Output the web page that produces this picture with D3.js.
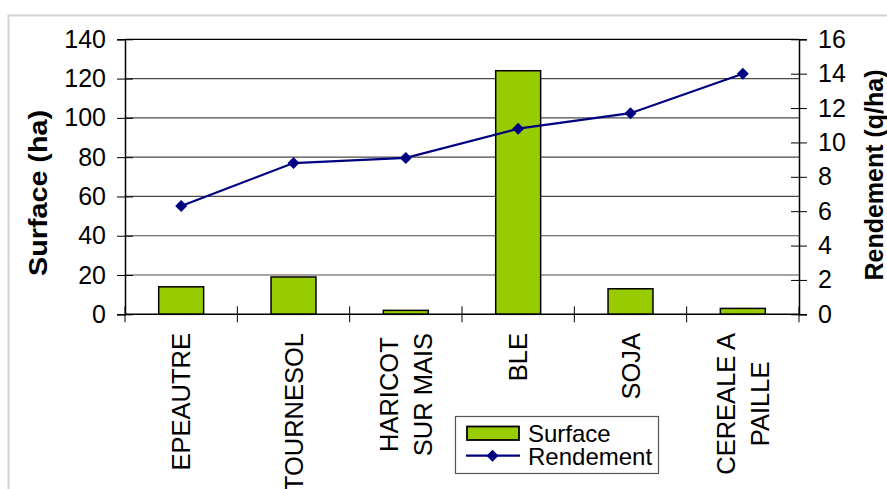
<!DOCTYPE html>
<html>
<head>
<meta charset="utf-8">
<script src="https://cdn.jsdelivr.net/npm/d3@7"></script>
<style>
  html, body { margin: 0; padding: 0; background: #fff; }
  svg { display: block; font-family: "Liberation Sans", Arial, sans-serif; }
</style>
</head>
<body>
<svg id="chart" width="887" height="489"></svg>
<script>
// Cultures: surface (ha) as bars, rendement (q/ha) as a line on the right axis
const categories = [["EPEAUTRE"], ["TOURNESOL"], ["HARICOT", "SUR MAIS"], ["BLE"], ["SOJA"], ["CEREALE A", "PAILLE"]];
const surface = [14, 19, 2, 124, 13, 3];
const rendement = [6.3, 8.8, 9.1, 10.8, 11.7, 14.0];
const surfaceTicks = [0, 20, 40, 60, 80, 100, 120, 140];
const rendementTicks = [0, 2, 4, 6, 8, 10, 12, 14, 16];

const svg = d3.select("#chart");
const plotLeft = 125, plotRight = 799, plotTop = 39.3, plotBottom = 314.3;

// outer frame of the chart area
svg.append("rect")
  .attr("x", 8.5).attr("y", 15.5).attr("width", 1000).attr("height", 1000)
  .attr("fill", "none").attr("stroke", "#d4d4d4").attr("stroke-width", 2);

const x = d3.scaleBand().domain(d3.range(categories.length)).range([plotLeft, plotRight]).paddingInner(0).paddingOuter(0);
const yL = d3.scaleLinear().domain([0, 140]).range([plotBottom, plotTop]);
const yR = d3.scaleLinear().domain([0, 16]).range([plotBottom, plotTop]);

// gridlines
svg.append("g").selectAll("line").data(surfaceTicks.slice(1)).join("line")
  .attr("x1", plotLeft).attr("x2", plotRight)
  .attr("y1", d => yL(d)).attr("y2", d => yL(d))
  .attr("stroke", d => d === 140 ? "#000" : "#4a4a4a").attr("stroke-width", 1.2);

// bars
const barW = x.bandwidth() * 0.4;
svg.append("g").selectAll("rect").data(surface).join("rect")
  .attr("x", (d, i) => x(i) + x.bandwidth() / 2 - barW / 2)
  .attr("y", d => yL(d))
  .attr("width", barW)
  .attr("height", d => yL(0) - yL(d))
  .attr("fill", "#99cc00").attr("stroke", "#000").attr("stroke-width", 1.5);

// left axis
const axL = svg.append("g").attr("transform", `translate(${plotLeft},0)`)
  .call(d3.axisLeft(yL).tickValues(surfaceTicks).tickSize(8).tickPadding(11));
axL.selectAll(".tick line").attr("x2", -8).attr("x1", 8);
// right axis
const axR = svg.append("g").attr("transform", `translate(${plotRight},0)`)
  .call(d3.axisRight(yR).tickValues(rendementTicks).tickSize(8).tickPadding(11));
axR.selectAll(".tick line").attr("x1", -8).attr("x2", 8);
// bottom axis with ticks between categories
const xEdges = d3.range(categories.length + 1).map(i => plotLeft + i * x.bandwidth());
svg.append("line").attr("x1", plotLeft).attr("x2", plotRight).attr("y1", plotBottom).attr("y2", plotBottom)
  .attr("stroke", "#000").attr("stroke-width", 1.5);
svg.append("g").selectAll("line").data(xEdges).join("line")
  .attr("x1", d => d).attr("x2", d => d).attr("y1", plotBottom - 8).attr("y2", plotBottom + 8)
  .attr("stroke", "#000").attr("stroke-width", 1);

[axL, axR].forEach(ax => {
  ax.select(".domain").attr("stroke", "#000").attr("stroke-width", 1.5);
  ax.selectAll(".tick line").attr("stroke", "#000");
  ax.selectAll("text").attr("font-size", 25).attr("fill", "#000")
    .attr("font-family", "'Liberation Sans', Arial, sans-serif");
});

// category labels, rotated, lines centred on each other, top edge near the axis
const labTop = 333;
const lineGap = 34;
categories.forEach((lines, i) => {
  const cx = x(i) + x.bandwidth() / 2;
  const g = svg.append("g");
  const texts = lines.map((t, k) => g.append("text").text(t)
    .attr("font-size", 25.5).attr("text-anchor", "middle").attr("fill", "#000"));
  const maxLen = d3.max(texts, t => t.node().getComputedTextLength());
  const cy = labTop + maxLen / 2;
  const n = lines.length;
  texts.forEach((t, k) => {
    const bx = cx + 9 + (k - (n - 1) / 2) * lineGap;
    t.attr("transform", `translate(${bx},${cy}) rotate(-90)`);
  });
});

// rendement line
const lineGen = d3.line().x((d, i) => x(i) + x.bandwidth() / 2).y(d => yR(d));
svg.append("path").datum(rendement).attr("d", lineGen)
  .attr("fill", "none").attr("stroke", "#000080").attr("stroke-width", 2.2);
const diamond = d3.symbol().type(d3.symbolSquare).size(72);
svg.append("g").selectAll("path").data(rendement).join("path")
  .attr("d", diamond)
  .attr("transform", (d, i) => `translate(${x(i) + x.bandwidth() / 2},${yR(d)}) rotate(45)`)
  .attr("fill", "#000080");

// axis titles
svg.append("text").text("Surface (ha)")
  .attr("transform", "translate(47,193) rotate(-90)")
  .attr("text-anchor", "middle").attr("font-size", 25).attr("font-weight", "bold")
  .attr("textLength", 166).attr("lengthAdjust", "spacingAndGlyphs");
svg.append("text").text("Rendement (q/ha)")
  .attr("transform", "translate(883,175) rotate(-90)")
  .attr("text-anchor", "middle").attr("font-size", 25).attr("font-weight", "bold");

// legend
const lg = svg.append("g");
lg.append("rect").attr("x", 455.5).attr("y", 416.5).attr("width", 203).attr("height", 57)
  .attr("fill", "#fff").attr("stroke", "#555").attr("stroke-width", 1.2);
lg.append("rect").attr("x", 467).attr("y", 426.5).attr("width", 52).attr("height", 13.5)
  .attr("fill", "#99cc00").attr("stroke", "#000").attr("stroke-width", 1.8);
lg.append("line").attr("x1", 466).attr("x2", 520).attr("y1", 455.7).attr("y2", 455.7)
  .attr("stroke", "#000080").attr("stroke-width", 2.2);
lg.append("path").attr("d", diamond).attr("transform", "translate(492.5,455.7) rotate(45)").attr("fill", "#000080");
lg.append("text").text("Surface").attr("x", 528).attr("y", 442).attr("font-size", 24);
lg.append("text").text("Rendement").attr("x", 528).attr("y", 464.5).attr("font-size", 24);
</script>
</body>
</html>
